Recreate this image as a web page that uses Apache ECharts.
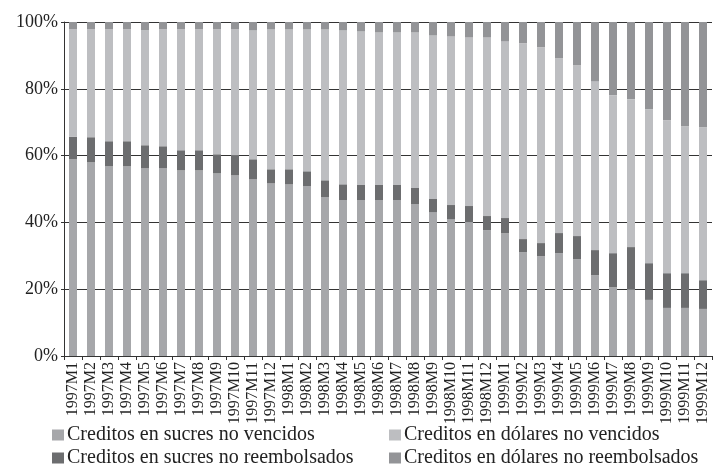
<!DOCTYPE html>
<html>
<head>
<meta charset="utf-8">
<script src="https://cdn.jsdelivr.net/npm/echarts@6/dist/echarts.min.js"></script>
<style>
  html, body { margin: 0; padding: 0; background: #fff; }
  #chart { width: 715px; height: 468px; }
</style>
</head>
<body>
<div id="chart"></div>
<script>
// Meses 1997M1 .. 1999M12
const months = [
  "1997M1", "1997M2", "1997M3", "1997M4", "1997M5", "1997M6",
  "1997M7", "1997M8", "1997M9", "1997M10", "1997M11", "1997M12",
  "1998M1", "1998M2", "1998M3", "1998M4", "1998M5", "1998M6",
  "1998M7", "1998M8", "1998M9", "1998M10", "1998M11", "1998M12",
  "1999M1", "1999M2", "1999M3", "1999M4", "1999M5", "1999M6",
  "1999M7", "1999M8", "1999M9", "1999M10", "1999M11", "1999M12"
];

// Participación (%) de cada tipo de crédito
const sucresNoVencidos = [
  58.9, 58.0, 56.8, 56.8, 56.2, 56.2, 55.6, 55.6, 54.7, 54.1, 52.9, 51.7,
  51.4, 50.9, 47.6, 46.7, 46.7, 46.7, 46.7, 45.5, 43.1, 41.0, 40.1, 37.7,
  36.8, 31.1, 29.9, 30.8, 29.0, 24.2, 20.6, 20.0, 16.8, 14.4, 14.4, 14.1
];
const sucresNoReembolsados = [
  6.7, 7.5, 7.5, 7.5, 6.9, 6.6, 6.0, 6.0, 5.7, 6.0, 6.0, 4.2,
  4.5, 4.4, 5.0, 4.7, 4.5, 4.5, 4.5, 4.8, 3.9, 4.2, 4.8, 4.2,
  4.5, 3.9, 3.9, 6.0, 6.9, 7.5, 10.2, 12.6, 11.0, 10.4, 10.4, 8.6
];
const dolaresNoVencidos = [
  32.2, 32.3, 33.5, 33.5, 34.4, 35.0, 36.2, 36.2, 37.4, 37.7, 38.6, 41.9,
  41.9, 42.5, 45.2, 46.1, 46.0, 45.7, 45.7, 46.6, 49.0, 50.5, 50.5, 53.5,
  52.9, 58.6, 58.6, 52.3, 51.1, 50.6, 47.3, 44.3, 46.1, 45.8, 44.0, 45.8
];
const dolaresNoReembolsados = [
  2.2, 2.2, 2.2, 2.2, 2.5, 2.2, 2.2, 2.2, 2.2, 2.2, 2.5, 2.2,
  2.2, 2.2, 2.2, 2.5, 2.8, 3.1, 3.1, 3.1, 4.0, 4.3, 4.6, 4.6,
  5.8, 6.4, 7.6, 10.9, 13.0, 17.7, 21.9, 23.1, 26.1, 29.4, 31.2, 31.5
];

const FONT = "'Liberation Serif', 'DejaVu Serif', serif";

const seriesDefs = [
  { name: "Creditos en sucres no vencidos", data: sucresNoVencidos, color: "#a6a7aa" },
  { name: "Creditos en sucres no reembolsados", data: sucresNoReembolsados, color: "#6c6d6f" },
  { name: "Creditos en dólares no vencidos", data: dolaresNoVencidos, color: "#bdbec1" },
  { name: "Creditos en dólares no reembolsados", data: dolaresNoReembolsados, color: "#939497" }
];

const chart = echarts.init(document.getElementById("chart"));

const legendBase = {
  orient: "vertical",
  top: 425,
  icon: "rect",
  itemWidth: 12,
  itemHeight: 11,
  itemGap: 3,
  padding: 0,
  selectedMode: false,
  textStyle: { fontFamily: FONT, fontSize: 20, color: "#222", padding: [0, 0, 0, -2] }
};

chart.setOption({
  animation: false,
  textStyle: { fontFamily: FONT },
  grid: { left: 64, right: 3, top: 22, bottom: 112 },
  legend: [
    Object.assign({}, legendBase, { left: 52, data: [seriesDefs[0].name, seriesDefs[1].name] }),
    Object.assign({}, legendBase, { left: 389, data: [seriesDefs[2].name, seriesDefs[3].name] })
  ],
  xAxis: {
    type: "category",
    data: months,
    axisLine: { lineStyle: { color: "#333", width: 1 } },
    axisTick: { show: true, interval: 0, length: 4, lineStyle: { color: "#333" } },
    axisLabel: {
      interval: 0,
      rotate: 90,
      margin: 6,
      fontFamily: FONT,
      fontSize: 16,
      color: "#222"
    }
  },
  yAxis: {
    type: "value",
    min: 0,
    max: 100,
    interval: 20,
    axisLine: { show: true, lineStyle: { color: "#333", width: 1 } },
    axisTick: { show: true, length: 3, lineStyle: { color: "#333" } },
    axisLabel: {
      formatter: "{value}%",
      margin: 6,
      fontFamily: FONT,
      fontSize: 18,
      color: "#222"
    },
    splitLine: { lineStyle: { color: "#333", width: 1 } }
  },
  series: seriesDefs.map((s) => ({
    name: s.name,
    type: "bar",
    stack: "total",
    barWidth: 8,
    data: s.data,
    itemStyle: { color: s.color }
  }))
});
</script>
</body>
</html>
